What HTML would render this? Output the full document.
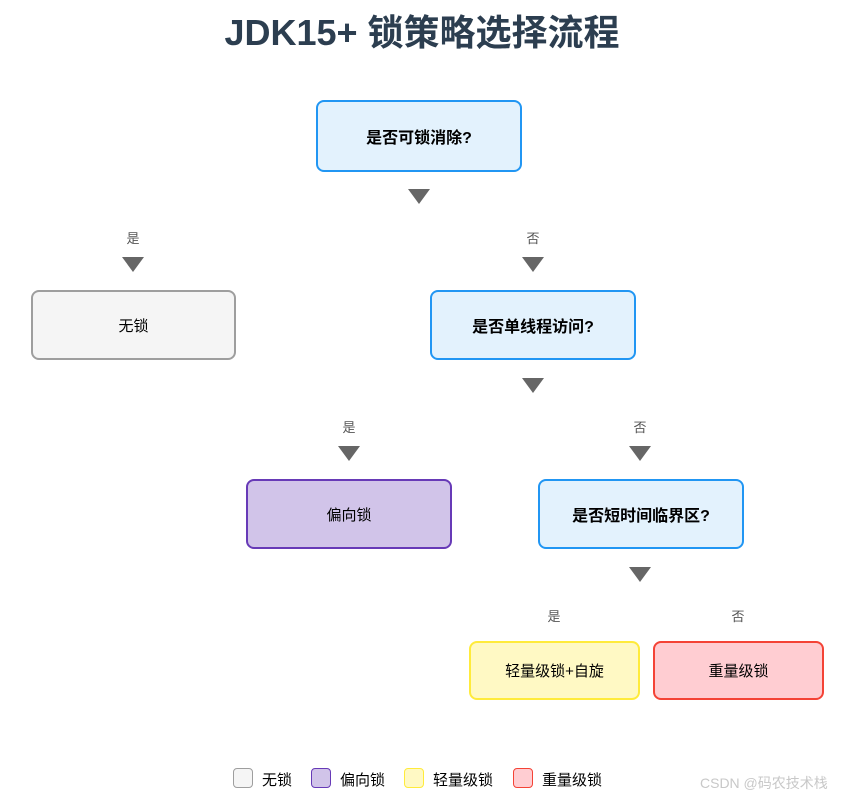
<!DOCTYPE html>
<html><head><meta charset="utf-8"><style>
body{margin:0;width:844px;height:799px;background:#fff;position:relative;overflow:hidden;font-family:"Liberation Sans","Noto Sans CJK SC",sans-serif;}
.t{position:absolute;left:0;width:844px;top:10px;text-align:center;font-size:36px;font-weight:bold;color:#2c3e50;line-height:46px;}
.b{position:absolute;box-sizing:border-box;border:2px solid;border-radius:8px;display:flex;align-items:center;justify-content:center;font-size:15px;color:#000;}
.q{background:#e3f2fd;border-color:#2196f3;font-weight:bold;font-size:16px;}
.tri{position:absolute;width:0;height:0;border-left:11px solid transparent;border-right:11px solid transparent;border-top:15px solid #666;}
.l{position:absolute;font-size:13px;color:#555;width:40px;text-align:center;}
.sq{position:absolute;width:18px;height:18px;border:1px solid;border-radius:4px;top:768px;}
.lt{position:absolute;top:769px;font-size:15px;color:#000;}
</style></head><body>
<div class="t">JDK15+ 锁策略选择流程</div>
<div class="b q" style="left:316px;top:100px;width:206px;height:72px;">是否可锁消除?</div>
<div class="tri" style="left:408px;top:189px"></div>
<div class="l" style="left:113px;top:228px">是</div>
<div class="l" style="left:513px;top:228px">否</div>
<div class="tri" style="left:122px;top:257px"></div>
<div class="tri" style="left:522px;top:257px"></div>
<div class="b" style="left:31px;top:290px;width:205px;height:70px;background:#f5f5f5;border-color:#9e9e9e;">无锁</div>
<div class="b q" style="left:430px;top:290px;width:206px;height:70px;">是否单线程访问?</div>
<div class="tri" style="left:522px;top:378px"></div>
<div class="l" style="left:329px;top:417px">是</div>
<div class="l" style="left:620px;top:417px">否</div>
<div class="tri" style="left:338px;top:446px"></div>
<div class="tri" style="left:629px;top:446px"></div>
<div class="b" style="left:246px;top:479px;width:206px;height:70px;background:#d1c4e9;border-color:#673ab7;">偏向锁</div>
<div class="b q" style="left:538px;top:479px;width:206px;height:70px;">是否短时间临界区?</div>
<div class="tri" style="left:629px;top:567px"></div>
<div class="l" style="left:534px;top:606px">是</div>
<div class="l" style="left:718px;top:606px">否</div>
<div class="b" style="left:469px;top:641px;width:171px;height:59px;background:#fff9c4;border-color:#ffeb3b;">轻量级锁+自旋</div>
<div class="b" style="left:653px;top:641px;width:171px;height:59px;background:#ffcdd2;border-color:#f44336;">重量级锁</div>
<div class="sq" style="left:233px;background:#f5f5f5;border-color:#9e9e9e"></div><div class="lt" style="left:262px">无锁</div>
<div class="sq" style="left:311px;background:#d1c4e9;border-color:#673ab7"></div><div class="lt" style="left:340px">偏向锁</div>
<div class="sq" style="left:404px;background:#fff9c4;border-color:#ffeb3b"></div><div class="lt" style="left:433px">轻量级锁</div>
<div class="sq" style="left:513px;background:#ffcdd2;border-color:#f44336"></div><div class="lt" style="left:542px">重量级锁</div>
<div style="position:absolute;left:700px;top:773px;font-size:14px;color:#c8c8c8">CSDN @码农技术栈</div>
</body></html>
